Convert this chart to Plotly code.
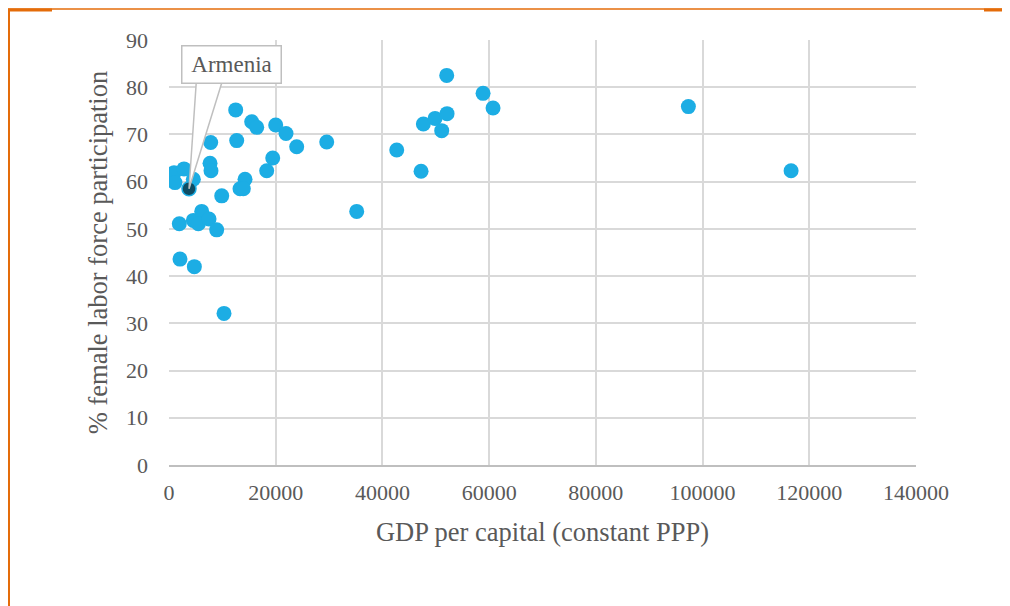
import plotly.graph_objects as go

# Data
gdp = [940, 1120, 2810, 4560, 1930, 4560, 6130, 5500, 7500, 8940, 2060, 4750, 10310,
       9880, 7810, 7690, 7870, 12500, 12690, 15500, 16440, 20000, 21930, 23930, 29560,
       19440, 18310, 14250, 13310, 13930, 35180, 42680, 47240, 47670, 49860, 51110,
       52110, 52050, 58860, 60730, 97340, 116590]
flfp = [61.9, 59.8, 62.7, 60.5, 51.1, 51.8, 53.7, 51.1, 52.1, 49.8, 43.6, 42.0, 32.1,
        57.0, 68.3, 63.9, 62.3, 75.2, 68.7, 72.7, 71.5, 72.0, 70.2, 67.4, 68.4,
        65.0, 62.3, 60.5, 58.5, 58.5, 53.7, 66.7, 62.2, 72.2, 73.4, 70.8,
        74.4, 82.5, 78.7, 75.6, 75.9, 62.3]
highlight_name = "Armenia"
highlight_gdp = [3750]
highlight_flfp = [58.5]

x_ticks = [0, 20000, 40000, 60000, 80000, 100000, 120000, 140000]
y_ticks = [0, 10, 20, 30, 40, 50, 60, 70, 80, 90]

BLUE = "#1cade4"
DARK = "#0f4c63"
GRID = "#d9d9d9"
TXT = "#595959"
ORANGE = "#e46c0a"
FONT = "Liberation Serif"

fig = go.Figure()
fig.add_trace(go.Scatter(x=gdp, y=flfp, mode="markers",
                         marker=dict(color=BLUE, size=15, line=dict(width=0)),
                         showlegend=False, hoverinfo="x+y"))
fig.add_trace(go.Scatter(x=highlight_gdp, y=highlight_flfp, mode="markers",
                         marker=dict(color=DARK, size=14, line=dict(width=1.5, color=BLUE)),
                         showlegend=False, name=highlight_name))

# Callout wedge from label box to highlighted point
hx, hy = highlight_gdp[0], highlight_flfp[0]
box_bottom = 80.9
wx0, wx1 = 5100, 9880
fig.add_shape(type="path",
              path=f"M {wx0},{box_bottom} L {hx},{hy} L {wx1},{box_bottom} Z",
              xref="x", yref="y", fillcolor="white",
              line=dict(color="#bfbfbf", width=1.5), layer="above")

fig.add_annotation(x=11715, y=84.75, xref="x", yref="y", text=highlight_name,
                   showarrow=False, font=dict(family=FONT, size=23, color=TXT),
                   bgcolor="white", bordercolor="#bfbfbf", borderwidth=1.5,
                   borderpad=4, width=90, height=28, xanchor="center", yanchor="middle")

# Orange frame lines (paper coordinates; plot area spans 747x425 px)
def px2x(p):
    return (p - 169) / 747.0

def py2y(p):
    return (465 - p) / 425.0

fig.add_shape(type="line", xref="paper", yref="paper",
              x0=px2x(8), x1=px2x(1015), y0=py2y(9), y1=py2y(9),
              line=dict(color=ORANGE, width=1.5), layer="above")
fig.add_shape(type="line", xref="paper", yref="paper",
              x0=px2x(8), x1=px2x(52), y0=py2y(10), y1=py2y(10),
              line=dict(color=ORANGE, width=3), layer="above")
fig.add_shape(type="line", xref="paper", yref="paper",
              x0=px2x(984), x1=px2x(1015), y0=py2y(10), y1=py2y(10),
              line=dict(color=ORANGE, width=3), layer="above")
fig.add_shape(type="line", xref="paper", yref="paper",
              x0=px2x(9), x1=px2x(9), y0=py2y(9), y1=py2y(615),
              line=dict(color=ORANGE, width=2), layer="above")

fig.update_xaxes(range=[0, 140000], tickvals=x_ticks, ticktext=[str(v) for v in x_ticks],
                 showgrid=True, gridcolor=GRID, gridwidth=1.5, zeroline=False,
                 showline=True, linecolor="#bfbfbf", linewidth=1.5, mirror=False,
                 ticks="", ticklabelstandoff=7,
                 tickfont=dict(family=FONT, size=22, color=TXT),
                 title=dict(text="GDP per capital (constant PPP)",
                            font=dict(family=FONT, size=26.5, color=TXT), standoff=18))
fig.update_yaxes(range=[0, 90], tickvals=y_ticks, ticktext=[str(v) for v in y_ticks],
                 showgrid=True, gridcolor=GRID, gridwidth=1.5, zeroline=False,
                 showline=False, ticks="", ticklabelstandoff=20,
                 tickfont=dict(family=FONT, size=22, color=TXT),
                 title=dict(text="% female labor force participation",
                            font=dict(family=FONT, size=26.5, color=TXT), standoff=10))
fig.update_layout(width=1002, height=598, plot_bgcolor="white", paper_bgcolor="white",
                  margin=dict(l=161, r=94, t=32, b=141), showlegend=False)

fig.write_html("out.html")
